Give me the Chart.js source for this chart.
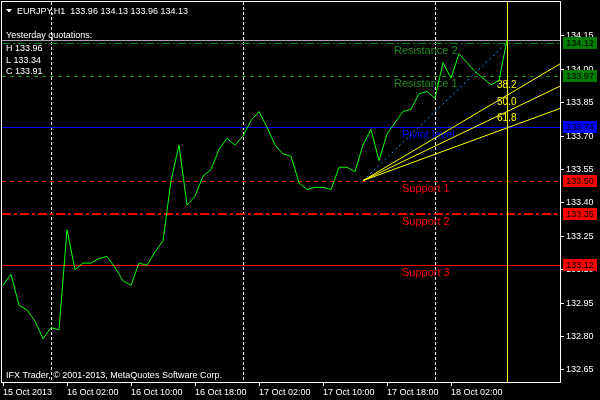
<!DOCTYPE html>
<html>
<head>
<meta charset="utf-8">
<script src="https://cdn.jsdelivr.net/npm/chart.js@4.4.1/dist/chart.umd.min.js"></script>
<style>
html, body { margin: 0; padding: 0; background: #000; }
canvas { display: block; }
</style>
</head>
<body>
<canvas id="chart" width="600" height="400"></canvas>
<script>
// EURJPY H1 closes, one per hour from 15 Oct 18:00
var closes = [
	133.03, 133.08, 132.94, 132.92, 132.87, 132.79, 132.84, 132.83,
	133.28, 133.10, 133.13, 133.13, 133.15, 133.16, 133.11, 133.05,
	133.03, 133.13, 133.12, 133.18, 133.23, 133.50, 133.66, 133.39,
	133.43, 133.52, 133.55, 133.64, 133.69, 133.66, 133.70, 133.77,
	133.81, 133.74, 133.66, 133.62, 133.61, 133.49, 133.46, 133.47,
	133.47, 133.46, 133.56, 133.56, 133.54, 133.66, 133.73, 133.59,
	133.71, 133.76, 133.81, 133.82, 133.89, 133.90, 133.87, 134.03,
	133.96, 134.07, 134.03, 133.99, 133.96, 133.93, 133.95, 134.13
];
var timeLabels = ['15 Oct 2013', '16 Oct 02:00', '16 Oct 10:00', '16 Oct 18:00',
	'17 Oct 02:00', '17 Oct 10:00', '17 Oct 18:00', '18 Oct 02:00'];
var priceTicks = [134.15, 134.00, 133.85, 133.70, 133.55, 133.40, 133.25, 133.10, 132.95, 132.80, 132.65];

var levelNames  = ['Resistance 2', 'Resistance 1', 'Piviot level', 'Support 1', 'Support 2', 'Support 3'];
var levelValues = [134.12, 133.97, 133.74, 133.50, 133.35, 133.12];

var yesterdayNames  = ['H', 'L', 'C'];
var yesterdayValues = [133.96, 133.34, 133.91];

var daySeparators = [6, 30, 54];
var verticalLines = [63];

var fanFrom = [45, 133.50];
var fanTo = [63, 134.12];
var fanLevels = [38.2, 50.0, 61.8];

// styles per level
var levelColors = ['#0a8a0a', '#0a8a0a', '#0000ff', '#ff0000', '#ff0000', '#ff0000'];
var levelText   = ['#1e8c1e', '#1e8c1e', '#0000ff', '#ff0000', '#ff0000', '#ff0000'];
var levelBox    = ['#007c00', '#007c00', '#0000ff', '#ff0000', '#ff0000', '#ff0000'];
var levelDash   = [[8, 3, 2, 3], [4, 4], [], [4, 4], [9, 3, 3, 3], []];
var levelWidth  = [1, 1, 1, 1, 2, 1];

var FONT = '"Liberation Sans", Arial, sans-serif';

function hline(ctx, a, py, dash, w) {
	var yy = w % 2 ? Math.round(py) + 0.5 : Math.round(py);
	ctx.setLineDash(dash);
	ctx.lineWidth = w;
	ctx.beginPath();
	ctx.moveTo(a.left, yy);
	ctx.lineTo(a.right, yy);
	ctx.stroke();
}

var overlay = {
	id: 'overlay',
	beforeDraw: function(chart) {
		var ctx = chart.ctx;
		ctx.save();
		ctx.fillStyle = '#000';
		ctx.fillRect(0, 0, chart.width, chart.height);
		ctx.restore();
	},
	beforeDatasetsDraw: function(chart) {
		var ctx = chart.ctx, a = chart.chartArea, x = chart.scales.x, y = chart.scales.y;
		ctx.save();
		ctx.beginPath();
		ctx.rect(a.left, a.top, a.right - a.left, a.bottom - a.top);
		ctx.clip();

		// day separators
		ctx.strokeStyle = '#fff';
		ctx.lineWidth = 1;
		ctx.setLineDash([3, 2]);
		daySeparators.forEach(function(d) {
			var px = Math.round(x.getPixelForValue(d)) + 0.5;
			ctx.beginPath();
			ctx.moveTo(px, a.top);
			ctx.lineTo(px, a.bottom);
			ctx.stroke();
		});

		// bid line
		ctx.strokeStyle = '#a0a4b0';
		hline(ctx, a, y.getPixelForValue(closes[closes.length - 1]), [], 1);

		// pivot levels
		levelValues.forEach(function(v, i) {
			ctx.strokeStyle = levelColors[i];
			hline(ctx, a, y.getPixelForValue(v), levelDash[i], levelWidth[i]);
		});
		ctx.setLineDash([]);
		ctx.font = '11px ' + FONT;
		ctx.textBaseline = 'alphabetic';
		ctx.textAlign = 'left';
		levelValues.forEach(function(v, i) {
			ctx.fillStyle = levelText[i];
			var lx = a.left + (i < 2 ? 392 : 400);
			ctx.fillText(levelNames[i], lx, Math.round(y.getPixelForValue(v)) + 11);
		});

		// fibo fan
		var ox = x.getPixelForValue(fanFrom[0]), oy = y.getPixelForValue(fanFrom[1]);
		var ex = x.getPixelForValue(fanTo[0]), ey = y.getPixelForValue(fanTo[1]);
		ctx.strokeStyle = '#1e90ff';
		ctx.lineWidth = 1;
		ctx.setLineDash([2, 3]);
		ctx.beginPath();
		ctx.moveTo(ox, oy);
		ctx.lineTo(ex, ey);
		ctx.stroke();
		ctx.setLineDash([]);
		ctx.strokeStyle = '#ffff00';
		ctx.fillStyle = '#ffff00';
		ctx.font = '10px ' + FONT;
		var range = fanTo[1] - fanFrom[1];
		fanLevels.forEach(function(l) {
			var py = y.getPixelForValue(fanTo[1] - range * l / 100);
			var t = (a.right - ox) / (ex - ox);
			ctx.beginPath();
			ctx.moveTo(ox, oy);
			ctx.lineTo(a.right, oy + (py - oy) * t);
			ctx.stroke();
			ctx.fillText(l.toFixed(1), ex - 10, py - 7);
		});

		// vertical lines
		verticalLines.forEach(function(d) {
			var px = Math.round(x.getPixelForValue(d)) + 0.5;
			ctx.beginPath();
			ctx.moveTo(px, a.top);
			ctx.lineTo(px, a.bottom);
			ctx.stroke();
		});
		ctx.restore();
	},
	afterDraw: function(chart) {
		var ctx = chart.ctx, a = chart.chartArea, y = chart.scales.y;
		ctx.save();
		ctx.strokeStyle = '#fff';
		ctx.lineWidth = 1;
		ctx.strokeRect(a.left - 0.5, a.top - 0.5, a.right - a.left + 1, a.bottom - a.top + 1);

		ctx.fillStyle = '#fff';
		ctx.font = '9px ' + FONT;
		ctx.textAlign = 'left';
		ctx.textBaseline = 'alphabetic';
		// header
		ctx.beginPath();
		ctx.moveTo(6, 9);
		ctx.lineTo(12, 9);
		ctx.lineTo(9, 12.5);
		ctx.closePath();
		ctx.fill();
		ctx.fillText('EURJPY,H1  133.96 134.13 133.96 134.13', 17, 14);
		ctx.fillText('Yesterday quotations:', 6, 38);
		yesterdayValues.forEach(function(v, i) {
			ctx.fillText(yesterdayNames[i] + ' ' + v.toFixed(2), 6, 51 + i * 11.5);
		});
		ctx.fillText('IFX Trader, \u00a9 2001-2013, MetaQuotes Software Corp.', 6, 378);

		// price boxes
		ctx.textAlign = 'center';
		ctx.textBaseline = 'middle';
		levelValues.forEach(function(v, i) {
			var py = Math.round(y.getPixelForValue(v));
			ctx.fillStyle = levelBox[i];
			ctx.fillRect(a.right + 3, py - 6, 34, 12);
			ctx.fillStyle = '#000';
			ctx.fillText(v.toFixed(2), a.right + 20, py + 0.5);
		});
		ctx.restore();
	}
};

var ctx = document.getElementById('chart').getContext('2d');
Chart.defaults.font.family = FONT;

var chart = new Chart(ctx, {
	type: 'line',
	data: {
		datasets: [{
			data: closes.map(function(c, i) { return { x: i, y: c }; }),
			borderColor: '#00ff00',
			borderWidth: 1,
			pointRadius: 0,
			tension: 0,
			fill: false
		}]
	},
	options: {
		responsive: false,
		animation: false,
		devicePixelRatio: 1,
		layout: { padding: { left: 2, top: 2, right: 0, bottom: 0 } },
		plugins: { legend: { display: false }, tooltip: { enabled: false } },
		scales: {
			x: {
				type: 'linear',
				position: 'bottom',
				min: -0.125,
				max: 69.625,
				afterBuildTicks: function(s) {
					s.ticks = timeLabels.map(function(_, k) { return { value: k * 8 }; });
				},
				afterFit: function(s) {
					s.height = 18;
					s.paddingLeft = 0; s.paddingRight = 0;
				},
				grid: { drawOnChartArea: false, tickLength: 4, color: '#fff' },
				border: { color: '#fff' },
				ticks: {
					color: '#fff',
					font: { size: 9 },
					align: 'start',
					padding: 1,
					autoSkip: false,
					maxRotation: 0,
					callback: function(v) { return timeLabels[v / 8]; }
				}
			},
			y: {
				type: 'linear',
				position: 'right',
				min: 132.596,
				max: 134.302,
				afterBuildTicks: function(s) {
					s.ticks = priceTicks.map(function(v) { return { value: v }; });
				},
				afterFit: function(s) {
					s.width = 40;
					s.paddingTop = 0; s.paddingBottom = 0;
				},
				grid: { drawOnChartArea: false, tickLength: 4, color: '#fff' },
				border: { color: '#fff' },
				ticks: {
					color: '#fff',
					font: { size: 9 },
					padding: 2,
					callback: function(v) { return v.toFixed(2); }
				}
			}
		}
	},
	plugins: [overlay]
});
</script>
</body>
</html>
